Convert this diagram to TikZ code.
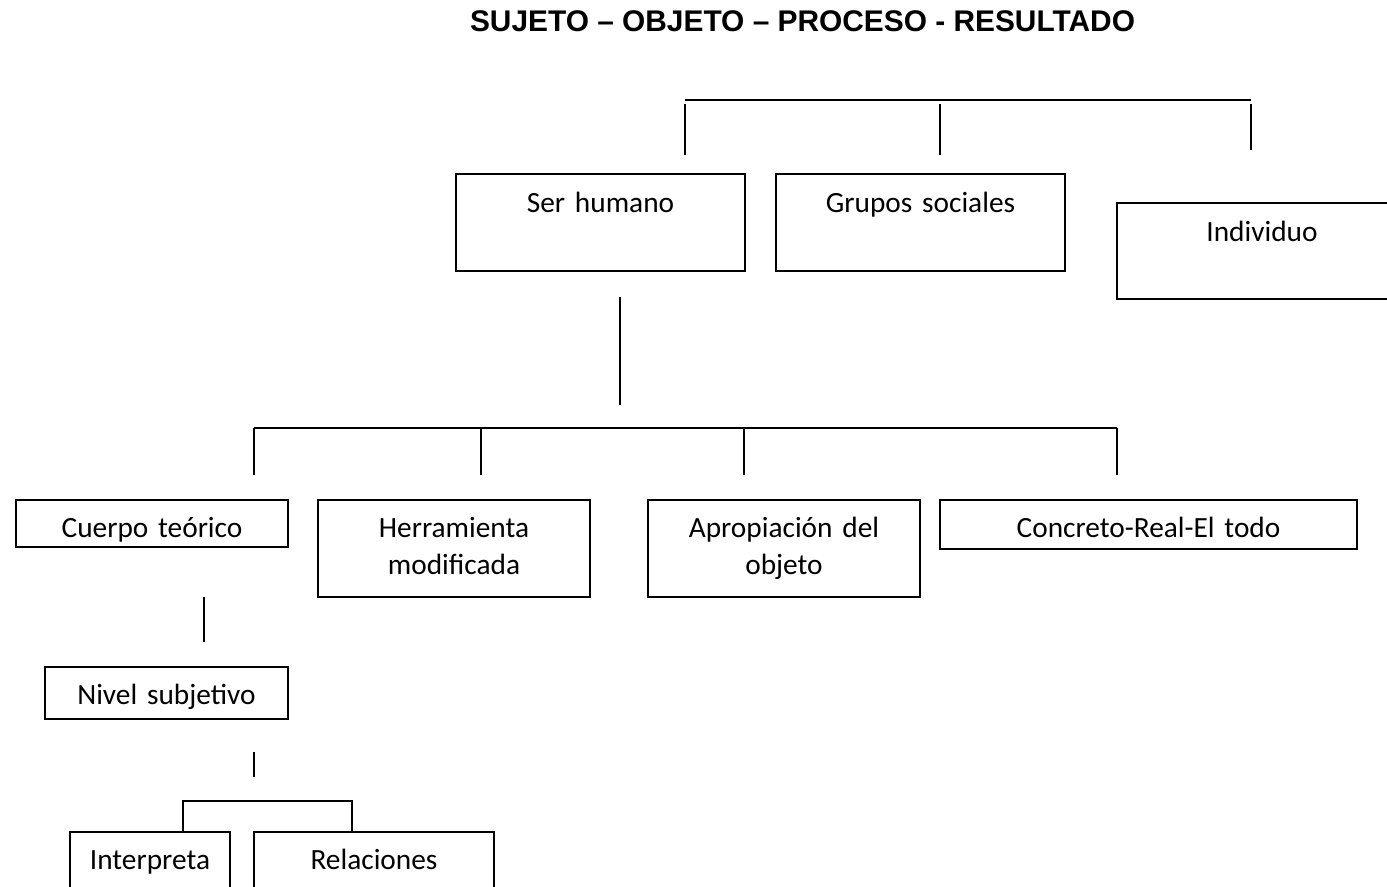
\documentclass[tikz,border=0pt]{standalone}
\usepackage{fontspec}
\setmainfont{Carlito}
\newfontfamily\titlefont{Liberation Sans}
\tikzset{
  caja/.style={draw, line width=0.75pt, anchor=north west, inner sep=0pt, align=center,
    font=\fontsize{11}{13.9}\selectfont, text height=13.9pt},
  alta/.style={text height=14.6pt},
  raya/.style={line width=0.75pt}
}
\begin{document}
\begin{tikzpicture}[x=0.375pt,y=-0.375pt]
\useasboundingbox (0,0) rectangle (1387,887);
\node[font=\titlefont\bfseries\fontsize{11.2}{13}\selectfont, anchor=base] (titulo) at (802.5,31.5) {SUJETO – OBJETO – PROCESO - RESULTADO};

\node[caja, alta, text width=108.4pt, text depth=21.75pt] (serhum) at (455,173) {Ser humano};
\node[caja, alta, text width=108.4pt, text depth=21.75pt] (grupos) at (775,173) {Grupos sociales};
\node[caja, alta, text width=108.75pt, text depth=21.4pt] (indiv) at (1116,202) {Individuo};

\node[caja, text width=102pt, text depth=3.75pt] (cuerpo) at (15,499) {Cuerpo teórico};
\node[caja, text width=102pt, text depth=22.5pt] (herram) at (317,499) {Herramienta\\modificada};
\node[caja, text width=102pt, text depth=22.5pt] (aprop) at (647,499) {Apropiación del\\objeto};
\node[caja, text width=156.4pt, text depth=4.5pt] (concreto) at (939,499) {Concreto-Real-El todo};

\node[caja, text width=91.1pt, text depth=5.6pt] (nivel) at (44,666) {Nivel subjetivo};

\node[caja, text width=60pt, text depth=11.25pt] (interp) at (69,831) {Interpreta};
\node[caja, text width=90pt, text depth=11.25pt] (relac) at (253,831) {Relaciones};

\coordinate (s1) at (685,100);
\coordinate (s2) at (940,100);
\coordinate (s3) at (1251,100);
\draw[raya] (s1) -- (s3);
\draw[raya] (s1) ++(0,4) -- ++(0,51);
\draw[raya] (s2) ++(0,4) -- ++(0,51);
\draw[raya] (s3) ++(0,4) -- ++(0,46);

\coordinate (h0) at (620,297);
\draw[raya] (h0) -- ++(0,108);

\coordinate (m1) at (254,428);
\coordinate (m2) at (481,428);
\coordinate (m3) at (744,428);
\coordinate (m4) at (1117,428);
\draw[raya] (m1) -- (m4);
\foreach \p in {m1,m2,m3,m4}
  \draw[raya] (\p) -- ++(0,47);

\coordinate (c0) at (204,597);
\draw[raya] (c0) -- ++(0,45);
\coordinate (n0) at (254,752);
\draw[raya] (n0) -- ++(0,25);

\coordinate (b1) at (183,801);
\coordinate (b2) at (352,801);
\draw[raya] (b1 |- interp.north) -- (b1) -- (b2) -- (b2 |- relac.north);
\end{tikzpicture}
\end{document}
